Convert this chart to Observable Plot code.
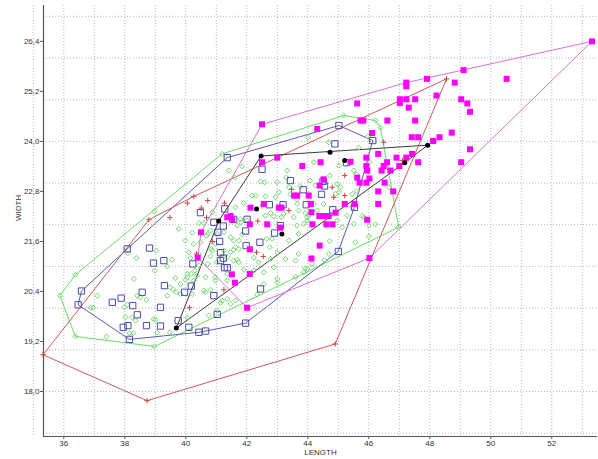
<!DOCTYPE html>
<html>
<head>
<meta charset="utf-8">
<script src="https://cdn.jsdelivr.net/npm/d3@7"></script>
<script src="https://cdn.jsdelivr.net/npm/@observablehq/plot@0.6"></script>
<style>
  html, body { margin: 0; padding: 0; background: #ffffff; }
  #chart svg { display: block; }
</style>
</head>
<body>
<div id="chart"></div>
<script>
// ---- axes / ticks ----
const xTicks = [36, 38, 40, 42, 44, 46, 48, 50, 52];
const yTicks = [18.0, 19.2, 20.4, 21.6, 22.8, 24.0, 25.2, 26.4];
const xGrid = [35, 36, 37, 38, 39, 40, 41, 42, 43, 44, 45, 46, 47, 48, 49, 50, 51, 52, 53];
const yGrid = [17, 18, 19, 20, 21, 22, 23, 24, 25, 26, 27];
const xDomain = [35.334, 53.5];
const yDomain = [16.92, 27.26];

// ---- series: [LENGTH, WIDTH] ----
const greenPts = [
[38.97,22.32],[36.38,20.80],[35.87,20.30],[36.38,19.32],[38.97,19.08],[39.77,21.90],[40.21,21.81],[38.10,21.32],[38.38,21.20],[39.04,21.38],
[39.55,21.16],[38.98,20.90],[39.39,21.00],[39.66,20.72],[38.30,20.70],[37.10,20.30],[38.41,20.30],[38.51,20.26],[38.71,20.20],[36.88,20.01],
[36.96,20.01],[37.99,20.02],[38.08,20.08],[38.02,19.78],[38.24,19.78],[39.01,19.72],[37.40,19.32],[38.16,19.40],[38.28,19.40],[39.48,19.42],
[40.15,21.20],[40.05,20.82],[40.30,20.90],[40.43,21.30],[40.26,20.66],[40.21,20.34],[39.83,20.34],[40.59,20.42],[40.81,20.44],[40.65,20.74],
[40.43,21.02],[40.72,21.06],[40.81,21.24],[40.97,21.54],[40.83,21.42],[40.72,21.78],[40.59,22.04],[41.03,21.78],[41.25,21.82],[40.87,22.30],
[40.43,22.04],[41.25,21.38],[41.36,21.22],[41.36,20.66],[41.03,19.94],[39.83,20.58],[40.97,20.66],[39.48,20.50],[39.59,20.45],[39.69,20.38],
[39.39,20.30],[38.35,19.70],[38.95,19.74],[39.06,19.41],[40.10,21.34],[40.26,21.54],[40.48,21.58],[40.68,21.74],[40.18,20.82],[40.37,20.78],
[39.99,20.68],[40.65,20.38],[41.36,20.82],[41.47,21.34],[41.63,21.46],[41.57,21.14],[41.74,21.62],[40.81,21.86],[41.14,20.12],[41.36,20.22],
[41.63,20.18],[40.05,19.77],[40.75,19.82],[41.61,23.14],[42.59,23.02],[43.00,23.02],[43.30,23.13],[43.76,22.92],[44.07,23.06],[44.25,22.94],
[44.03,22.74],[43.05,22.78],[42.29,22.70],[42.61,22.68],[43.43,22.73],[43.65,22.61],[43.65,22.50],[44.96,22.98],[44.91,22.74],[45.46,22.74],
[45.46,22.42],[45.29,22.22],[41.90,22.52],[41.63,22.42],[42.50,22.45],[42.78,22.28],[42.89,22.20],[43.21,22.26],[43.54,22.18],[43.92,22.28],
[43.65,21.98],[43.98,22.10],[43.70,21.78],[41.79,22.14],[41.82,22.06],[42.01,22.10],[41.85,21.77],[41.57,21.62],[42.65,21.66],[42.83,21.66],
[42.75,21.46],[43.38,21.62],[43.00,21.34],[41.74,21.42],[41.69,21.16],[42.23,21.21],[42.39,21.10],[42.78,21.18],[43.27,21.18],[43.70,21.30],
[43.60,21.14],[44.14,21.06],[44.55,21.15],[43.98,20.94],[42.23,20.90],[42.89,20.98],[42.56,20.86],[41.90,20.92],[39.99,21.62],[40.87,21.38],
[41.57,21.40],[41.47,21.70],[41.74,21.10],[41.01,21.10],[40.05,20.74],[40.97,20.74],[41.19,20.18],[41.47,20.10],[42.34,20.32],[43.00,20.70],
[43.00,20.62],[42.56,20.58],[43.60,20.75],[43.87,20.86],[44.69,21.30],[45.56,21.58],[45.51,22.02],[46.22,22.01],[44.03,22.22],[44.52,22.50],
[44.20,23.50],[45.02,23.42],[44.72,23.18],[45.51,23.30],[45.59,23.21],[45.07,22.90],[45.02,22.78],[44.20,22.50],[44.31,22.34],[45.13,21.94],
[45.78,22.21],[46.00,21.98],[44.72,21.61],[46.00,21.72],[43.87,22.02],[43.90,20.95],[41.41,23.30],[41.85,23.40],[43.32,23.30],[44.01,24.10],
[44.69,23.98],[45.18,24.62],[43.38,22.90],[42.45,23.04],[45.84,22.18],[42.18,22.70],[42.94,22.66],[43.70,22.34],[42.61,22.22],[43.14,22.18],
[43.98,22.18],[44.96,22.10],[41.69,21.98],[46.22,24.50],[46.38,24.33],[45.97,24.12],[45.67,23.85],[46.02,23.50],[45.60,22.80],[46.66,22.90],
[41.19,23.70],[46.98,21.94]
];

const bluePts = [
[38.08,21.42],[36.58,20.41],[36.47,20.08],[37.59,20.14],[37.88,20.24],[38.26,20.06],[38.57,20.38],[38.81,21.44],[38.94,21.08],[39.28,21.14],
[39.30,20.54],[39.17,20.02],[38.41,19.84],[37.95,19.54],[38.10,19.58],[38.71,19.58],[39.17,19.57],[38.15,19.25],[39.75,19.70],[40.10,19.54],
[40.43,19.42],[40.65,19.45],[39.96,20.38],[40.18,20.53],[40.23,21.06],[40.48,22.29],[40.92,22.06],[41.23,21.97],[41.05,21.82],[41.11,21.60],
[41.14,21.33],[41.23,21.20],[41.27,20.97],[40.92,20.30],[41.03,19.85],[41.36,23.61],[45.02,24.38],[44.89,23.94],[45.27,23.49],[46.13,24.02],
[42.50,23.33],[43.43,23.06],[43.85,22.84],[44.55,22.93],[44.50,23.04],[42.74,22.48],[43.19,22.48],[43.95,22.48],[44.82,22.36],[41.28,22.38],
[41.57,22.13],[42.01,22.13],[43.10,21.98],[44.45,22.73],[42.91,21.80],[41.96,21.85],[42.43,21.58],[41.98,21.50],[45.00,21.36],[41.36,20.97],
[41.14,21.14],[41.96,19.64],[42.45,20.46],[45.53,22.42]
];

const magentaPts = [
[53.32,26.40],[49.11,25.71],[50.52,25.50],[48.82,25.41],[47.91,25.50],[47.23,25.41],[47.23,25.32],[48.22,25.10],[47.02,25.01],[47.23,25.01],
[47.52,25.01],[47.02,24.92],[49.03,25.01],[49.23,24.91],[49.32,24.71],[47.31,24.81],[45.62,24.91],[45.73,24.50],[45.82,24.50],[46.61,24.50],
[47.52,24.50],[46.11,24.20],[48.72,24.21],[48.32,24.10],[48.11,24.01],[47.41,24.10],[47.62,24.10],[49.32,23.81],[46.31,23.70],[45.92,23.61],
[47.42,23.70],[46.91,23.61],[47.23,23.61],[45.40,23.51],[47.62,23.50],[49.03,23.50],[46.60,23.50],[45.92,23.41],[46.49,23.41],[47.00,23.41],
[46.42,23.30],[46.71,23.30],[46.02,23.11],[45.92,23.01],[46.52,23.01],[46.31,22.80],[46.80,22.80],[42.50,24.41],[44.31,24.30],[42.50,23.50],
[43.00,23.61],[43.82,23.41],[44.42,23.50],[45.95,23.30],[45.62,23.13],[44.52,23.09],[45.70,23.01],[44.39,22.94],[44.03,22.70],[43.55,22.70],
[43.65,22.70],[42.56,22.50],[42.12,22.41],[43.05,22.41],[43.14,22.41],[44.12,22.30],[44.10,22.50],[44.38,22.21],[44.53,22.21],[44.68,22.21],
[44.91,22.29],[45.21,22.50],[45.53,22.50],[46.31,22.50],[45.95,22.12],[41.36,22.18],[41.47,22.21],[41.52,22.12],[42.10,22.01],[42.67,22.01],
[43.10,21.93],[44.15,22.01],[44.61,22.01],[44.81,22.01],[44.39,21.50],[44.12,21.19],[42.10,21.41],[42.10,20.82],[41.51,20.81],[41.61,20.61],
[42.01,20.01],[46.02,21.20],[40.50,21.82],[40.39,21.21]
];

const redPts = [
[38.79,22.12],[40.05,22.52],[40.26,22.68],[39.48,22.17],[40.51,22.40],[40.68,22.17],[40.35,21.30],[40.87,21.60],[40.12,20.01],[41.25,20.44],
[41.27,22.52],[42.36,22.09],[43.47,22.85],[43.38,22.34],[44.80,22.90],[44.85,22.66],[45.21,22.70],[45.21,23.18],[42.32,21.34],[42.54,21.24],
[46.49,23.98],[47.10,23.54],[48.55,25.50],[35.32,18.88],[38.73,17.78],[44.90,19.14],[40.72,22.58]
];

const blackPts = [
[39.69,19.52],[41.08,22.09],[42.32,22.38],[43.15,21.78],[42.47,23.65],[44.73,23.74],[45.21,23.54],[47.18,23.49],[47.93,23.91]
];

const rows = (arr) => arr.map(([LENGTH, WIDTH]) => ({LENGTH, WIDTH}));
const green = rows(greenPts), blue = rows(bluePts), magenta = rows(magentaPts), red = rows(redPts), black = rows(blackPts);

const C = {
  green: "#6fd86f", greenHull: "#66dd66",
  blue: "#4b4bab", blueHull: "#5a5ab4",
  magenta: "#ff00ff", magentaHull: "#dd6fdd",
  red: "#cc4444", redHull: "#cc5a5a",
  black: "#000000", blackHull: "#3a3a3a"
};
const xy = {x: "LENGTH", y: "WIDTH"};

const chart = Plot.plot({
  width: 598,
  height: 459,
  marginLeft: 43,
  marginRight: 1,
  marginTop: 5,
  marginBottom: 23,
  style: {fontFamily: "'Liberation Sans', Arial, sans-serif", fontSize: "8px", color: "#333", background: "#ffffff"},
  x: {domain: xDomain},
  y: {domain: yDomain},
  marks: [
    Plot.ruleX(xGrid, {stroke: "#b8b8b8", strokeDasharray: "1,2", strokeWidth: 1}),
    Plot.ruleY(yGrid, {stroke: "#b8b8b8", strokeDasharray: "1,2", strokeWidth: 1}),
    Plot.axisX({ticks: xTicks, tickSize: 3, tickPadding: 1, label: null, stroke: "#555", tickFormat: d => String(d)}),
    Plot.axisY({ticks: yTicks, tickSize: 3, tickPadding: 1, label: null, stroke: "#555", tickFormat: d => d.toFixed(1).replace(".", ",")}),
    Plot.ruleX([xDomain[0]], {stroke: "#555", strokeWidth: 1.2}),
    Plot.ruleY([yDomain[0]], {stroke: "#555", strokeWidth: 1.2}),
    Plot.hull(green, {...xy, stroke: C.greenHull, strokeWidth: 1}),
    Plot.hull(blue, {...xy, stroke: C.blueHull, strokeWidth: 1}),
    Plot.hull(red, {...xy, stroke: C.redHull, strokeWidth: 1}),
    Plot.hull(magenta, {...xy, stroke: C.magentaHull, strokeWidth: 1}),
    Plot.hull(black, {...xy, stroke: C.blackHull, strokeWidth: 1}),
    Plot.dot(green, {...xy, symbol: "diamond2", r: 2.3, stroke: C.green, fill: "none", strokeWidth: 1}),
    Plot.dot(blue, {...xy, symbol: "square2", r: 4, stroke: C.blue, fill: "none", strokeWidth: 1}),
    Plot.dot(red, {...xy, symbol: "plus", r: 1.9, stroke: C.red, fill: "none", strokeWidth: 1}),
    Plot.dot(magenta, {...xy, symbol: "square", r: 3.4, fill: C.magenta, stroke: "none"}),
    Plot.dot(black, {...xy, symbol: "circle", r: 2.5, fill: C.black, stroke: "none"}),
    Plot.text(["LENGTH"], {frameAnchor: "bottom", dy: 18, text: d => d, fontSize: 8, fill: "#333"}),
    Plot.text(["WIDTH"], {frameAnchor: "left", dx: -25, rotate: -90, text: d => d, fontSize: 8, fill: "#333"})
  ]
});
document.getElementById("chart").append(chart);
</script>
</body>
</html>
